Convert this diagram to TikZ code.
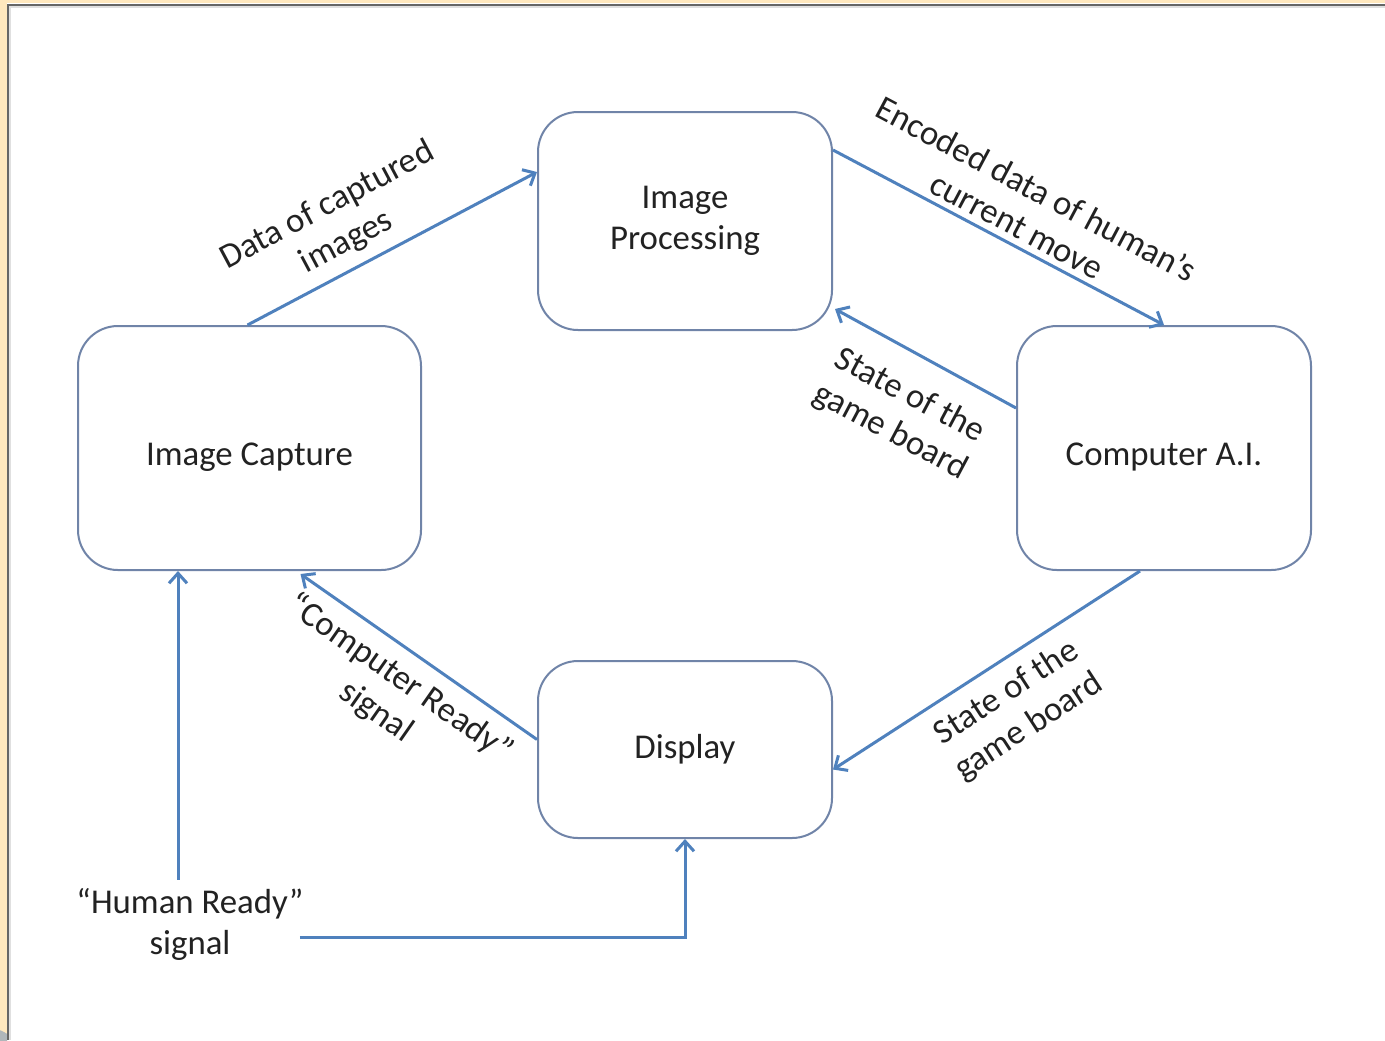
\documentclass[tikz,border=0pt]{standalone}
\usepackage{fontspec}
\setmainfont{Carlito}
\usetikzlibrary{calc,arrows.meta}
\definecolor{flowblue}{RGB}{79,129,189}
\definecolor{boxline}{RGB}{112,132,168}
\definecolor{slidetan}{RGB}{255,232,190}
\definecolor{textgray}{RGB}{34,34,34}
\tikzstyle{block}=[draw=boxline, line width=1pt, fill=white, rounded corners=20pt, align=center, text=textgray]
\tikzstyle{lowtext}=[text height=21pt, text depth=4pt]
\tikzstyle{lbl}=[align=center, inner sep=0pt, text=textgray]
\tikzstyle{flow}=[draw=flowblue, line width=1.5pt, -{Straight Barb[length=5pt, width=9pt]}]

\begin{document}
\begin{tikzpicture}[x=0.5pt, y=-0.5pt, font=\fontsize{17.4}{20.5}\selectfont]
\useasboundingbox (0,0) rectangle (1385,1040);
% Slide edge
    \fill[white] (0,0) rectangle (1385,1040);
    \fill[slidetan] (0,0) rectangle (7,1040);
    \fill[slidetan] (0,0) rectangle (1385,3);
    \begin{scope}
        \clip (0,0) rectangle (7,1040);
        \fill[gray!40!cyan!30!black!40] (-12,1062) circle (34);
    \end{scope}
    \draw[black!60, line width=1pt] (8,1040) -- (8,5) -- (1385,5);
    \draw[black!12, line width=1pt] (10,1040) -- (10,7) -- (1385,7);
% Blocks
    \node[block, minimum width=147pt, minimum height=109pt] (proc) at (685,221) {Image\\Processing};
    \node[block, lowtext, minimum width=171.5pt, minimum height=122pt] (cap) at (249.5,448) {Image Capture};
    \node[block, lowtext, minimum width=147pt, minimum height=122pt] (ai) at (1164,448) {Computer A.I.};
    \node[block, minimum width=147pt, minimum height=88.5pt] (disp) at (685,749.5) {Display};
% Labels
    \node[lbl, rotate=28] (datalbl) at (337,224) {Data of captured\\images};
    \node[lbl, rotate=-28] (enclbl) at (1027,207) {Encoded data of human’s\\current move};
    \node[lbl, rotate=-28] (boardlbl) at (900,414) {State of the\\game board};
    \node[lbl, rotate=33] (showlbl) at (1018,710) {State of the\\game board};
    \node[lbl, rotate=-35] (readylbl) at (388,695) {“Computer Ready”\\signal};
    \node[lbl] (humlbl) at (190,924) {“Human Ready”\\signal};
% Data flow
    \draw[flow] ($(cap.north)+(-2,0)$) -- ($(proc.west)+(0,-49)$);
    \draw[flow] ($(proc.east)+(0,-71)$) -- (ai.north);
    \draw[flow] ($(ai.west)+(0,-40)$) -- ($(proc.east)+(2,88)$);
    \draw[flow] ($(ai.south)+(-24,0)$) -- ($(disp.east)+(0,20)$);
    \draw[flow] ($(disp.west)+(0,-10)$) -- ($(cap.south)+(51,3)$);
% Human ready signal
    \coordinate (hup) at ($(humlbl.north)+(-12,-8)$);
    \draw[flow] (hup) -- (hup |- cap.south);
    \draw[flow] ($(humlbl.east)+(-4,13)$) -| (disp.south);
\end{tikzpicture}
\end{document}
